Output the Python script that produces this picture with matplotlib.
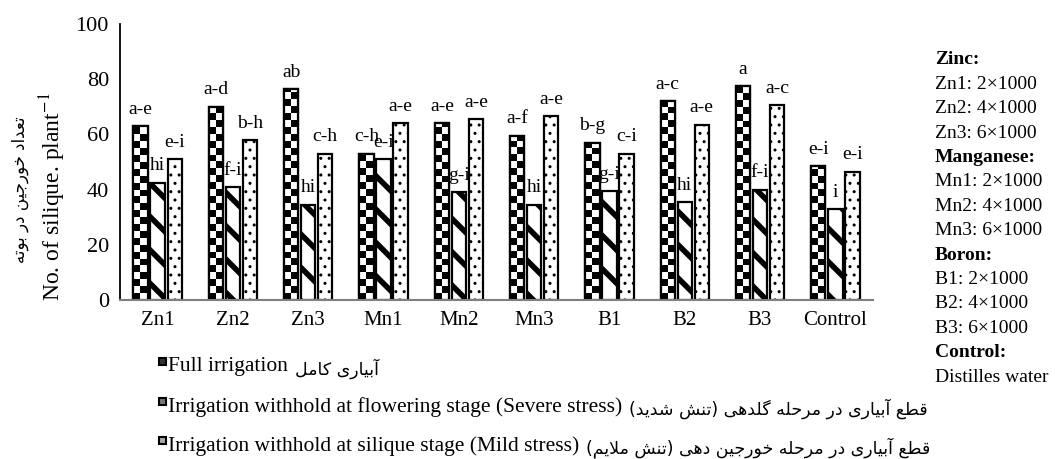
import numpy as np
import matplotlib.pyplot as plt
from matplotlib.patches import Rectangle

plt.rcParams['font.family'] = ['Liberation Serif', 'DejaVu Sans']
plt.rcParams['mathtext.fontset'] = 'stix'

# data
groups = ['Zn1', 'Zn2', 'Zn3', 'Mn1', 'Mn2', 'Mn3', 'B1', 'B2', 'B3', 'Control']
full = [63, 70, 76.5, 53, 64, 59.5, 57, 72, 77.5, 48.5]
severe = [42.5, 41, 34.5, 51, 39, 34.5, 39.5, 35.5, 40, 33]
mild = [51, 58, 53, 64, 65.5, 66.5, 53, 63.5, 70.5, 46.5]
full_letters = ['a-e', 'a-d', 'ab', 'c-h', 'a-e', 'a-f', 'b-g', 'a-c', 'a', 'e-i']
severe_letters = ['hi', 'f-i', 'hi', 'e-i', 'g-i', 'hi', 'g-i', 'hi', 'f-i', 'i']
mild_letters = ['e-i', 'b-h', 'c-h', 'a-e', 'a-e', 'a-e', 'c-i', 'a-e', 'a-c', 'e-i']

legend_en = ['Full irrigation',
             'Irrigation withhold at flowering stage (Severe stress)',
             'Irrigation withhold at silique stage (Mild stress)']
legend_fa = ['آبیاری کامل',
             'قطع آبیاری در مرحله گلدهی (تنش شدید)',
             'قطع آبیاری در مرحله خورجین دهی (تنش ملایم)']
ylabel_fa = 'تعداد خورجین در بوته'

notes = [('Zinc:', True), ('Zn1: 2×1000', False), ('Zn2: 4×1000', False),
         ('Zn3: 6×1000', False), ('Manganese:', True), ('Mn1: 2×1000', False),
         ('Mn2: 4×1000', False), ('Mn3: 6×1000', False), ('Boron:', True),
         ('B1: 2×1000', False), ('B2: 4×1000', False), ('B3: 6×1000', False),
         ('Control:', True), ('Distilles water', False)]

# arabic presentation forms: isolated, final, initial, medial
FA = {
    'ا': '\ufe8d\ufe8e', 'آ': '\ufe81\ufe82', 'د': '\ufea9\ufeaa',
    'ر': '\ufead\ufeae', 'و': '\ufeed\ufeee', '\ufefb': '\ufefb\ufefc',
    'ب': '\ufe8f\ufe90\ufe91\ufe92', 'ت': '\ufe95\ufe96\ufe97\ufe98',
    'ج': '\ufe9d\ufe9e\ufe9f\ufea0', 'ح': '\ufea1\ufea2\ufea3\ufea4',
    'خ': '\ufea5\ufea6\ufea7\ufea8', 'ش': '\ufeb5\ufeb6\ufeb7\ufeb8',
    'ط': '\ufec1\ufec2\ufec3\ufec4', 'ع': '\ufec9\ufeca\ufecb\ufecc',
    'ق': '\ufed5\ufed6\ufed7\ufed8', 'ل': '\ufedd\ufede\ufedf\ufee0',
    'م': '\ufee1\ufee2\ufee3\ufee4', 'ن': '\ufee5\ufee6\ufee7\ufee8',
    'ه': '\ufee9\ufeea\ufeeb\ufeec', 'ی': '\ufbfc\ufbfd\ufbfe\ufbff',
    'ک': '\ufb8e\ufb8f\ufb90\ufb91', 'گ': '\ufb92\ufb93\ufb94\ufb95',
}


def fa(text):
    # shape and reverse persian text since matplotlib has no bidi
    text = text.replace('لا', '\ufefb')
    out = []
    for i, c in enumerate(text):
        f = FA.get(c)
        if f is None:
            out.append({'(': ')', ')': '('}.get(c, c))
            continue
        prev = text[i - 1] if i > 0 else ''
        nxt = text[i + 1] if i + 1 < len(text) else ''
        jp = prev in FA and len(FA[prev]) == 4
        jn = len(f) == 4 and nxt in FA
        if len(f) == 4:
            out.append(f[(1 if jp else 0) + (2 if jn else 0)])
        else:
            out.append(f[1 if jp else 0])
    return ''.join(reversed(out))


W, H = 1055, 459
fig = plt.figure(figsize=(W / 100, H / 100), dpi=100)
ax = fig.add_axes([120 / W, 1 - 300 / H, 753 / W, 276 / H])

x = np.arange(len(groups))
bw = 0.19
off = 0.226

with plt.rc_context({'hatch.linewidth': 4.0}):
    b_sev = ax.bar(x, severe, bw, color='white', edgecolor='black',
                   linewidth=1.6, hatch='\\', zorder=2)
with plt.rc_context({'hatch.linewidth': 1.0}):
    b_mild = ax.bar(x + off, mild, bw, color='white', edgecolor='black',
                    linewidth=1.6, hatch='..', zorder=2)
b_full = ax.bar(x - off, full, bw, color='white', edgecolor='black',
                linewidth=1.6, zorder=2)

# checkerboard fill for the full irrigation bars
cell = 2.5
for bar in b_full:
    x0, w, h = bar.get_x(), bar.get_width(), bar.get_height()
    n = int(np.ceil(h / cell))
    pat = (np.indices((n, 2)).sum(axis=0) % 2).astype(float)
    im = ax.imshow(pat, cmap='gray', interpolation='nearest', aspect='auto',
                   extent=(x0, x0 + w, n * cell, 0), zorder=2.1)
    im.set_clip_path(bar)
    ax.add_patch(Rectangle((x0, 0), w, h, fill=False, edgecolor='black',
                           linewidth=1.6, zorder=2.2))

for bars, labs in [(b_full, full_letters), (b_sev, severe_letters),
                   (b_mild, mild_letters)]:
    for bar, lab in zip(bars, labs):
        ax.annotate(lab, (bar.get_x() + bar.get_width() / 2, bar.get_height()),
                    xytext=(0, 6), textcoords='offset points', ha='center',
                    va='bottom', fontsize=14, zorder=1)

ax.set_xlim(-0.5, len(groups) - 0.5)
ax.set_ylim(0, 100)
ax.set_yticks(range(0, 101, 20))
ax.set_xticks(x)
ax.set_xticklabels(groups)
ax.tick_params(length=0, labelsize=15, pad=8)
ax.tick_params(axis='y', labelsize=16)
for s in ['top', 'right']:
    ax.spines[s].set_visible(False)
ax.spines['left'].set_linewidth(1.3)
ax.spines['bottom'].set_color('#7f7f7f')
ax.spines['bottom'].set_linewidth(1.5)

fig.text(53 / W, 1 - 197 / H, 'No. of silique. plant$^{-1}$', rotation=90,
         ha='center', va='center', fontsize=17)
fig.text(20 / W, 1 - 190 / H, fa(ylabel_fa), rotation=90, ha='center',
         va='center', fontsize=12, family='DejaVu Sans')

# legend rows drawn by hand (english + persian)
rows_y = [367, 407, 446]
fills = ['#333333', '#777777', '#aaaaaa']
fig.canvas.draw()
rend = fig.canvas.get_renderer()
for yy, en, fa_txt, fc in zip(rows_y, legend_en, legend_fa, fills):
    fig.patches.append(Rectangle((159 / W, 1 - (yy - 2) / H), 7 / W, 7 / H,
                                 transform=fig.transFigure, facecolor=fc,
                                 edgecolor='black', linewidth=1.5))
    t = fig.text(168 / W, 1 - yy / H, en, fontsize=15.5, va='center')
    bb = t.get_window_extent(rend)
    fig.text(bb.x1 / W + 7 / W, 1 - (yy + 2) / H, fa(fa_txt), fontsize=12.5,
             va='center', family='DejaVu Sans')

for i, (txt, bold) in enumerate(notes):
    fig.text(935 / W, 1 - (60 + 24.4 * i) / H, txt, fontsize=14, va='center',
             weight='bold' if bold else 'normal')

fig.savefig('out.png', dpi=100)
